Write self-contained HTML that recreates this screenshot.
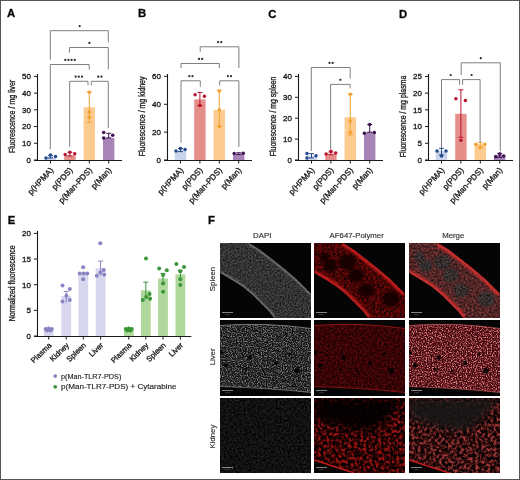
<!DOCTYPE html><html><head><meta charset="utf-8"><style>html,body{margin:0;padding:0;background:#fff}svg{display:block;will-change:transform}text{stroke:#1a1a1a;stroke-width:0.32px}</style></head><body>
<svg width="520" height="480" viewBox="0 0 520 480" font-family='"Liberation Sans", sans-serif'>
<rect width="520" height="480" fill="#fff"/>
<text x="7" y="17.3" font-size="11.3" font-weight="bold" fill="#000">A</text>
<text x="138" y="17.3" font-size="11.3" font-weight="bold" fill="#000">B</text>
<text x="268.3" y="17.6" font-size="11.3" font-weight="bold" fill="#000">C</text>
<text x="399" y="17.6" font-size="11.3" font-weight="bold" fill="#000">D</text>
<text x="7.8" y="224.2" font-size="11.3" font-weight="bold" fill="#000">E</text>
<text x="208" y="224.3" font-size="11.3" font-weight="bold" fill="#000">F</text>
<rect x="44.80" y="156.99" width="11.4" height="3.01" fill="#c9d3ea"/>
<rect x="64.20" y="155.32" width="11.4" height="4.68" fill="#e58f8a"/>
<rect x="83.60" y="107.33" width="11.4" height="52.67" fill="#fdcb90"/>
<rect x="103.00" y="137.93" width="11.4" height="22.07" fill="#a684b6"/>
<path d="M50.30,59.70V30.70H108.30V42.30" fill="none" stroke="#727272" stroke-width="0.9"/>
<circle cx="79.70" cy="26.10" r="1.1" fill="#2a2a2a"/>
<path d="M69.50,52.75V47.50H108.30V69.20" fill="none" stroke="#727272" stroke-width="0.9"/>
<circle cx="89.40" cy="42.90" r="1.1" fill="#2a2a2a"/>
<path d="M50.30,149.20V64.50H89.20V69.70" fill="none" stroke="#727272" stroke-width="0.9"/>
<circle cx="65.28" cy="59.90" r="1.1" fill="#2a2a2a"/>
<circle cx="68.43" cy="59.90" r="1.1" fill="#2a2a2a"/>
<circle cx="71.58" cy="59.90" r="1.1" fill="#2a2a2a"/>
<circle cx="74.73" cy="59.90" r="1.1" fill="#2a2a2a"/>
<path d="M69.70,146.70V81.30H88.00V85.30" fill="none" stroke="#727272" stroke-width="0.9"/>
<circle cx="75.65" cy="76.70" r="1.1" fill="#2a2a2a"/>
<circle cx="78.80" cy="76.70" r="1.1" fill="#2a2a2a"/>
<circle cx="81.95" cy="76.70" r="1.1" fill="#2a2a2a"/>
<path d="M91.30,85.30V81.30H108.30V128.00" fill="none" stroke="#727272" stroke-width="0.9"/>
<circle cx="98.22" cy="76.70" r="1.1" fill="#2a2a2a"/>
<circle cx="101.38" cy="76.70" r="1.1" fill="#2a2a2a"/>
<path d="M50.50,157.99V155.65M48.00,155.65h5M48.00,157.99h5" stroke="#234a8a" stroke-width="1" fill="none"/>
<circle cx="46.00" cy="157.99" r="1.75" fill="#234a8a"/>
<circle cx="50.50" cy="154.98" r="1.75" fill="#234a8a"/>
<circle cx="55.50" cy="156.49" r="1.75" fill="#234a8a"/>
<path d="M69.90,155.99V152.31M67.40,152.31h5M67.40,155.99h5" stroke="#b8142e" stroke-width="1" fill="none"/>
<circle cx="65.20" cy="154.48" r="1.75" fill="#b8142e"/>
<circle cx="69.90" cy="152.31" r="1.75" fill="#b8142e"/>
<circle cx="74.70" cy="153.81" r="1.75" fill="#b8142e"/>
<path d="M89.30,122.38V92.28M86.80,92.28h5M86.80,122.38h5" stroke="#f2a030" stroke-width="1" fill="none"/>
<circle cx="89.30" cy="92.28" r="1.75" fill="#f2a030"/>
<circle cx="89.30" cy="112.18" r="1.75" fill="#f2a030"/>
<circle cx="89.30" cy="117.20" r="1.75" fill="#f2a030"/>
<path d="M108.70,137.93V133.25M106.20,133.25h5M106.20,137.93h5" stroke="#3d1250" stroke-width="1" fill="none"/>
<circle cx="103.70" cy="132.41" r="1.75" fill="#3d1250"/>
<circle cx="112.70" cy="135.25" r="1.75" fill="#3d1250"/>
<circle cx="103.70" cy="137.93" r="1.75" fill="#3d1250"/>
<path d="M37.5,73.90V160.5M34,160.5H122.00" stroke="#1a1a1a" stroke-width="1.1" fill="none"/>
<path d="M34,160.00H37.5" stroke="#1a1a1a" stroke-width="1"/>
<text x="31.00" y="162.90" font-size="8" text-anchor="end" fill="#1a1a1a">0</text>
<path d="M34,143.28H37.5" stroke="#1a1a1a" stroke-width="1"/>
<text x="31.00" y="146.18" font-size="8" text-anchor="end" fill="#1a1a1a">10</text>
<path d="M34,126.56H37.5" stroke="#1a1a1a" stroke-width="1"/>
<text x="31.00" y="129.46" font-size="8" text-anchor="end" fill="#1a1a1a">20</text>
<path d="M34,109.84H37.5" stroke="#1a1a1a" stroke-width="1"/>
<text x="31.00" y="112.74" font-size="8" text-anchor="end" fill="#1a1a1a">30</text>
<path d="M34,93.12H37.5" stroke="#1a1a1a" stroke-width="1"/>
<text x="31.00" y="96.02" font-size="8" text-anchor="end" fill="#1a1a1a">40</text>
<path d="M34,76.40H37.5" stroke="#1a1a1a" stroke-width="1"/>
<text x="31.00" y="79.30" font-size="8" text-anchor="end" fill="#1a1a1a">50</text>
<path d="M50.50,160.5V163.5" stroke="#1a1a1a" stroke-width="1"/>
<path d="M69.90,160.5V163.5" stroke="#1a1a1a" stroke-width="1"/>
<path d="M89.30,160.5V163.5" stroke="#1a1a1a" stroke-width="1"/>
<path d="M108.70,160.5V163.5" stroke="#1a1a1a" stroke-width="1"/>
<text transform="translate(53.70,170.60) rotate(-47.5)" font-size="8.1" text-anchor="end" fill="#1a1a1a">p(HPMA)</text>
<text transform="translate(73.10,170.60) rotate(-47.5)" font-size="8.1" text-anchor="end" fill="#1a1a1a">p(PDS)</text>
<text transform="translate(92.50,170.60) rotate(-47.5)" font-size="8.1" text-anchor="end" fill="#1a1a1a">p(Man-PDS)</text>
<text transform="translate(111.90,170.60) rotate(-47.5)" font-size="8.1" text-anchor="end" fill="#1a1a1a">p(Man)</text>
<text transform="translate(15.40,116.45) rotate(-90)" font-size="8.6" text-anchor="middle" fill="#1a1a1a" textLength="73.3" lengthAdjust="spacingAndGlyphs">Fluorescence / mg liver</text>
<rect x="174.80" y="150.25" width="11.4" height="9.75" fill="#c9d3ea"/>
<rect x="194.20" y="99.39" width="11.4" height="60.61" fill="#e58f8a"/>
<rect x="213.60" y="109.84" width="11.4" height="50.16" fill="#fdcb90"/>
<rect x="233.00" y="153.73" width="11.4" height="6.27" fill="#a684b6"/>
<path d="M200.20,51.80V46.80H238.90V68.00" fill="none" stroke="#727272" stroke-width="0.9"/>
<circle cx="218.12" cy="42.20" r="1.1" fill="#2a2a2a"/>
<circle cx="221.28" cy="42.20" r="1.1" fill="#2a2a2a"/>
<path d="M181.00,68.00V63.50H219.40V68.00" fill="none" stroke="#727272" stroke-width="0.9"/>
<circle cx="199.03" cy="58.90" r="1.1" fill="#2a2a2a"/>
<circle cx="202.18" cy="58.90" r="1.1" fill="#2a2a2a"/>
<path d="M181.00,142.70V80.80H200.30V86.80" fill="none" stroke="#727272" stroke-width="0.9"/>
<circle cx="189.33" cy="76.20" r="1.1" fill="#2a2a2a"/>
<circle cx="192.48" cy="76.20" r="1.1" fill="#2a2a2a"/>
<path d="M219.70,85.50V80.80H238.90V146.90" fill="none" stroke="#727272" stroke-width="0.9"/>
<circle cx="227.93" cy="76.20" r="1.1" fill="#2a2a2a"/>
<circle cx="231.08" cy="76.20" r="1.1" fill="#2a2a2a"/>
<path d="M180.50,151.64V148.44M178.00,148.44h5M178.00,151.64h5" stroke="#234a8a" stroke-width="1" fill="none"/>
<circle cx="176.00" cy="150.94" r="1.75" fill="#234a8a"/>
<circle cx="180.50" cy="148.44" r="1.75" fill="#234a8a"/>
<circle cx="185.00" cy="149.55" r="1.75" fill="#234a8a"/>
<path d="M199.90,105.66V92.42M197.40,92.42h5M197.40,105.66h5" stroke="#b8142e" stroke-width="1" fill="none"/>
<circle cx="195.10" cy="94.79" r="1.75" fill="#b8142e"/>
<circle cx="204.40" cy="96.19" r="1.75" fill="#b8142e"/>
<circle cx="199.90" cy="105.38" r="1.75" fill="#b8142e"/>
<path d="M219.30,126.56V90.33M216.80,90.33h5M216.80,126.56h5" stroke="#f2a030" stroke-width="1" fill="none"/>
<circle cx="219.30" cy="91.03" r="1.75" fill="#f2a030"/>
<circle cx="219.30" cy="109.84" r="1.75" fill="#f2a030"/>
<circle cx="219.30" cy="126.56" r="1.75" fill="#f2a030"/>
<path d="M238.70,154.43V152.75M236.20,152.75h5M236.20,154.43h5" stroke="#3d1250" stroke-width="1" fill="none"/>
<circle cx="234.20" cy="153.59" r="1.75" fill="#3d1250"/>
<circle cx="243.20" cy="153.31" r="1.75" fill="#3d1250"/>
<path d="M167.5,73.90V160.5M164,160.5H252.00" stroke="#1a1a1a" stroke-width="1.1" fill="none"/>
<path d="M164,160.00H167.5" stroke="#1a1a1a" stroke-width="1"/>
<text x="161.00" y="162.90" font-size="8" text-anchor="end" fill="#1a1a1a">0</text>
<path d="M164,132.13H167.5" stroke="#1a1a1a" stroke-width="1"/>
<text x="161.00" y="135.03" font-size="8" text-anchor="end" fill="#1a1a1a">20</text>
<path d="M164,104.27H167.5" stroke="#1a1a1a" stroke-width="1"/>
<text x="161.00" y="107.17" font-size="8" text-anchor="end" fill="#1a1a1a">40</text>
<path d="M164,76.40H167.5" stroke="#1a1a1a" stroke-width="1"/>
<text x="161.00" y="79.30" font-size="8" text-anchor="end" fill="#1a1a1a">60</text>
<path d="M180.50,160.5V163.5" stroke="#1a1a1a" stroke-width="1"/>
<path d="M199.90,160.5V163.5" stroke="#1a1a1a" stroke-width="1"/>
<path d="M219.30,160.5V163.5" stroke="#1a1a1a" stroke-width="1"/>
<path d="M238.70,160.5V163.5" stroke="#1a1a1a" stroke-width="1"/>
<text transform="translate(183.70,170.60) rotate(-47.5)" font-size="8.1" text-anchor="end" fill="#1a1a1a">p(HPMA)</text>
<text transform="translate(203.10,170.60) rotate(-47.5)" font-size="8.1" text-anchor="end" fill="#1a1a1a">p(PDS)</text>
<text transform="translate(222.50,170.60) rotate(-47.5)" font-size="8.1" text-anchor="end" fill="#1a1a1a">p(Man-PDS)</text>
<text transform="translate(241.90,170.60) rotate(-47.5)" font-size="8.1" text-anchor="end" fill="#1a1a1a">p(Man)</text>
<text transform="translate(145.40,116.45) rotate(-90)" font-size="8.6" text-anchor="middle" fill="#1a1a1a" textLength="79.8" lengthAdjust="spacingAndGlyphs">Fluorescence / mg kidney</text>
<rect x="305.80" y="155.82" width="11.4" height="4.18" fill="#c9d3ea"/>
<rect x="325.20" y="153.73" width="11.4" height="6.27" fill="#e58f8a"/>
<rect x="344.60" y="117.16" width="11.4" height="42.84" fill="#fdcb90"/>
<rect x="364.00" y="132.20" width="11.4" height="27.80" fill="#a684b6"/>
<path d="M311.30,151.00V67.50H350.20V78.60" fill="none" stroke="#727272" stroke-width="0.9"/>
<circle cx="329.53" cy="62.90" r="1.1" fill="#2a2a2a"/>
<circle cx="332.68" cy="62.90" r="1.1" fill="#2a2a2a"/>
<path d="M330.60,149.00V84.40H350.20V88.40" fill="none" stroke="#727272" stroke-width="0.9"/>
<circle cx="340.40" cy="79.80" r="1.1" fill="#2a2a2a"/>
<path d="M311.50,157.91V153.73M309.00,153.73h5M309.00,157.91h5" stroke="#234a8a" stroke-width="1" fill="none"/>
<circle cx="307.00" cy="153.52" r="1.75" fill="#234a8a"/>
<circle cx="307.00" cy="157.91" r="1.75" fill="#234a8a"/>
<circle cx="316.00" cy="155.82" r="1.75" fill="#234a8a"/>
<path d="M330.90,154.78V152.06M328.40,152.06h5M328.40,154.78h5" stroke="#b8142e" stroke-width="1" fill="none"/>
<circle cx="326.10" cy="153.94" r="1.75" fill="#b8142e"/>
<circle cx="330.90" cy="151.22" r="1.75" fill="#b8142e"/>
<circle cx="335.70" cy="152.89" r="1.75" fill="#b8142e"/>
<path d="M350.30,134.92V94.17M347.80,94.17h5M347.80,134.92h5" stroke="#f2a030" stroke-width="1" fill="none"/>
<circle cx="350.30" cy="94.17" r="1.75" fill="#f2a030"/>
<circle cx="350.30" cy="120.92" r="1.75" fill="#f2a030"/>
<circle cx="350.30" cy="132.20" r="1.75" fill="#f2a030"/>
<path d="M369.70,132.20V124.47M367.20,124.47h5M367.20,132.20h5" stroke="#3d1250" stroke-width="1" fill="none"/>
<circle cx="369.70" cy="124.47" r="1.75" fill="#3d1250"/>
<circle cx="364.40" cy="133.25" r="1.75" fill="#3d1250"/>
<circle cx="374.30" cy="132.41" r="1.75" fill="#3d1250"/>
<path d="M298.5,73.90V160.5M295,160.5H383.00" stroke="#1a1a1a" stroke-width="1.1" fill="none"/>
<path d="M295,160.00H298.5" stroke="#1a1a1a" stroke-width="1"/>
<text x="292.00" y="162.90" font-size="8" text-anchor="end" fill="#1a1a1a">0</text>
<path d="M295,139.10H298.5" stroke="#1a1a1a" stroke-width="1"/>
<text x="292.00" y="142.00" font-size="8" text-anchor="end" fill="#1a1a1a">10</text>
<path d="M295,118.20H298.5" stroke="#1a1a1a" stroke-width="1"/>
<text x="292.00" y="121.10" font-size="8" text-anchor="end" fill="#1a1a1a">20</text>
<path d="M295,97.30H298.5" stroke="#1a1a1a" stroke-width="1"/>
<text x="292.00" y="100.20" font-size="8" text-anchor="end" fill="#1a1a1a">30</text>
<path d="M295,76.40H298.5" stroke="#1a1a1a" stroke-width="1"/>
<text x="292.00" y="79.30" font-size="8" text-anchor="end" fill="#1a1a1a">40</text>
<path d="M311.50,160.5V163.5" stroke="#1a1a1a" stroke-width="1"/>
<path d="M330.90,160.5V163.5" stroke="#1a1a1a" stroke-width="1"/>
<path d="M350.30,160.5V163.5" stroke="#1a1a1a" stroke-width="1"/>
<path d="M369.70,160.5V163.5" stroke="#1a1a1a" stroke-width="1"/>
<text transform="translate(314.70,170.60) rotate(-47.5)" font-size="8.1" text-anchor="end" fill="#1a1a1a">p(HPMA)</text>
<text transform="translate(334.10,170.60) rotate(-47.5)" font-size="8.1" text-anchor="end" fill="#1a1a1a">p(PDS)</text>
<text transform="translate(353.50,170.60) rotate(-47.5)" font-size="8.1" text-anchor="end" fill="#1a1a1a">p(Man-PDS)</text>
<text transform="translate(372.90,170.60) rotate(-47.5)" font-size="8.1" text-anchor="end" fill="#1a1a1a">p(Man)</text>
<text transform="translate(276.40,116.45) rotate(-90)" font-size="8.6" text-anchor="middle" fill="#1a1a1a" textLength="79.5" lengthAdjust="spacingAndGlyphs">Fluorescence / mg spleen</text>
<rect x="435.80" y="150.97" width="11.4" height="9.03" fill="#c9d3ea"/>
<rect x="455.20" y="113.85" width="11.4" height="46.15" fill="#e58f8a"/>
<rect x="474.60" y="144.28" width="11.4" height="15.72" fill="#fdcb90"/>
<rect x="494.00" y="154.98" width="11.4" height="5.02" fill="#a684b6"/>
<path d="M461.20,74.90V62.80H500.30V151.20" fill="none" stroke="#727272" stroke-width="0.9"/>
<circle cx="480.80" cy="58.20" r="1.1" fill="#2a2a2a"/>
<path d="M441.50,150.00V79.60H459.60V84.70" fill="none" stroke="#727272" stroke-width="0.9"/>
<circle cx="450.70" cy="75.00" r="1.1" fill="#2a2a2a"/>
<path d="M462.60,84.70V79.60H480.10V143.00" fill="none" stroke="#727272" stroke-width="0.9"/>
<circle cx="471.60" cy="75.00" r="1.1" fill="#2a2a2a"/>
<path d="M441.50,154.98V148.30M439.00,148.30h5M439.00,154.98h5" stroke="#234a8a" stroke-width="1" fill="none"/>
<circle cx="437.00" cy="150.97" r="1.75" fill="#234a8a"/>
<circle cx="441.50" cy="155.99" r="1.75" fill="#234a8a"/>
<circle cx="446.00" cy="150.97" r="1.75" fill="#234a8a"/>
<path d="M460.90,137.26V89.78M458.40,89.78h5M458.40,137.26h5" stroke="#b8142e" stroke-width="1" fill="none"/>
<circle cx="455.90" cy="98.80" r="1.75" fill="#b8142e"/>
<circle cx="465.40" cy="100.48" r="1.75" fill="#b8142e"/>
<circle cx="460.90" cy="140.27" r="1.75" fill="#b8142e"/>
<path d="M480.30,147.29V142.61M477.80,142.61h5M477.80,147.29h5" stroke="#f2a030" stroke-width="1" fill="none"/>
<circle cx="475.80" cy="144.28" r="1.75" fill="#f2a030"/>
<circle cx="480.30" cy="147.63" r="1.75" fill="#f2a030"/>
<circle cx="484.80" cy="144.28" r="1.75" fill="#f2a030"/>
<path d="M499.70,157.32V153.31M497.20,153.31h5M497.20,157.32h5" stroke="#3d1250" stroke-width="1" fill="none"/>
<circle cx="495.70" cy="156.66" r="1.75" fill="#3d1250"/>
<circle cx="499.70" cy="153.98" r="1.75" fill="#3d1250"/>
<circle cx="503.70" cy="155.99" r="1.75" fill="#3d1250"/>
<path d="M428.5,73.90V160.5M425,160.5H513.00" stroke="#1a1a1a" stroke-width="1.1" fill="none"/>
<path d="M425,160.00H428.5" stroke="#1a1a1a" stroke-width="1"/>
<text x="422.00" y="162.90" font-size="8" text-anchor="end" fill="#1a1a1a">0</text>
<path d="M425,143.28H428.5" stroke="#1a1a1a" stroke-width="1"/>
<text x="422.00" y="146.18" font-size="8" text-anchor="end" fill="#1a1a1a">5</text>
<path d="M425,126.56H428.5" stroke="#1a1a1a" stroke-width="1"/>
<text x="422.00" y="129.46" font-size="8" text-anchor="end" fill="#1a1a1a">10</text>
<path d="M425,109.84H428.5" stroke="#1a1a1a" stroke-width="1"/>
<text x="422.00" y="112.74" font-size="8" text-anchor="end" fill="#1a1a1a">15</text>
<path d="M425,93.12H428.5" stroke="#1a1a1a" stroke-width="1"/>
<text x="422.00" y="96.02" font-size="8" text-anchor="end" fill="#1a1a1a">20</text>
<path d="M425,76.40H428.5" stroke="#1a1a1a" stroke-width="1"/>
<text x="422.00" y="79.30" font-size="8" text-anchor="end" fill="#1a1a1a">25</text>
<path d="M441.50,160.5V163.5" stroke="#1a1a1a" stroke-width="1"/>
<path d="M460.90,160.5V163.5" stroke="#1a1a1a" stroke-width="1"/>
<path d="M480.30,160.5V163.5" stroke="#1a1a1a" stroke-width="1"/>
<path d="M499.70,160.5V163.5" stroke="#1a1a1a" stroke-width="1"/>
<text transform="translate(444.70,170.60) rotate(-47.5)" font-size="8.1" text-anchor="end" fill="#1a1a1a">p(HPMA)</text>
<text transform="translate(464.10,170.60) rotate(-47.5)" font-size="8.1" text-anchor="end" fill="#1a1a1a">p(PDS)</text>
<text transform="translate(483.50,170.60) rotate(-47.5)" font-size="8.1" text-anchor="end" fill="#1a1a1a">p(Man-PDS)</text>
<text transform="translate(502.90,170.60) rotate(-47.5)" font-size="8.1" text-anchor="end" fill="#1a1a1a">p(Man)</text>
<text transform="translate(406.40,116.45) rotate(-90)" font-size="8.6" text-anchor="middle" fill="#1a1a1a" textLength="81.4" lengthAdjust="spacingAndGlyphs">Fluorescence / mg plasma</text>
<rect x="43.80" y="329.33" width="9.8" height="6.67" fill="#d9d7ef"/>
<rect x="61.30" y="295.99" width="9.8" height="40.01" fill="#d9d7ef"/>
<rect x="78.40" y="272.90" width="9.8" height="63.10" fill="#d9d7ef"/>
<rect x="95.70" y="268.28" width="9.8" height="67.72" fill="#d9d7ef"/>
<rect x="123.90" y="329.84" width="9.8" height="6.16" fill="#b0d79c"/>
<rect x="140.90" y="290.34" width="9.8" height="45.66" fill="#b0d79c"/>
<rect x="158.10" y="278.54" width="9.8" height="57.46" fill="#b0d79c"/>
<rect x="175.50" y="274.44" width="9.8" height="61.56" fill="#b0d79c"/>
<circle cx="45.60" cy="329.00" r="2.0" fill="#8a84c2"/>
<circle cx="48.70" cy="328.50" r="2.0" fill="#8a84c2"/>
<circle cx="51.80" cy="329.00" r="2.0" fill="#8a84c2"/>
<circle cx="47.00" cy="330.50" r="2.0" fill="#8a84c2"/>
<circle cx="50.40" cy="330.50" r="2.0" fill="#8a84c2"/>
<path d="M66.20,302.65V291.37M63.70,291.37h5" stroke="#8a84c2" stroke-width="1" fill="none"/>
<circle cx="62.50" cy="285.40" r="2.0" fill="#8a84c2"/>
<circle cx="69.80" cy="288.90" r="2.0" fill="#8a84c2"/>
<circle cx="66.40" cy="295.70" r="2.0" fill="#8a84c2"/>
<circle cx="62.50" cy="301.50" r="2.0" fill="#8a84c2"/>
<circle cx="69.80" cy="299.90" r="2.0" fill="#8a84c2"/>
<circle cx="83.10" cy="267.30" r="2.0" fill="#8a84c2"/>
<circle cx="79.70" cy="273.50" r="2.0" fill="#8a84c2"/>
<circle cx="83.60" cy="273.50" r="2.0" fill="#8a84c2"/>
<circle cx="87.20" cy="273.50" r="2.0" fill="#8a84c2"/>
<circle cx="83.10" cy="279.20" r="2.0" fill="#8a84c2"/>
<path d="M100.60,275.47V261.10M98.10,261.10h5" stroke="#8a84c2" stroke-width="1" fill="none"/>
<circle cx="100.30" cy="243.30" r="2.0" fill="#8a84c2"/>
<circle cx="103.70" cy="270.00" r="2.0" fill="#8a84c2"/>
<circle cx="100.30" cy="272.40" r="2.0" fill="#8a84c2"/>
<circle cx="96.80" cy="275.80" r="2.0" fill="#8a84c2"/>
<circle cx="104.20" cy="274.70" r="2.0" fill="#8a84c2"/>
<circle cx="125.80" cy="329.00" r="2.0" fill="#3a9638"/>
<circle cx="128.80" cy="328.50" r="2.0" fill="#3a9638"/>
<circle cx="131.80" cy="329.00" r="2.0" fill="#3a9638"/>
<circle cx="127.20" cy="330.50" r="2.0" fill="#3a9638"/>
<circle cx="130.40" cy="330.50" r="2.0" fill="#3a9638"/>
<path d="M145.80,297.52V282.13M143.30,282.13h5" stroke="#3a9638" stroke-width="1" fill="none"/>
<circle cx="146.00" cy="258.60" r="2.0" fill="#3a9638"/>
<circle cx="142.80" cy="299.90" r="2.0" fill="#3a9638"/>
<circle cx="146.20" cy="297.10" r="2.0" fill="#3a9638"/>
<circle cx="149.60" cy="294.10" r="2.0" fill="#3a9638"/>
<circle cx="150.10" cy="298.70" r="2.0" fill="#3a9638"/>
<path d="M163.00,284.70V273.41M160.50,273.41h5" stroke="#3a9638" stroke-width="1" fill="none"/>
<circle cx="159.20" cy="268.50" r="2.0" fill="#3a9638"/>
<circle cx="166.80" cy="270.30" r="2.0" fill="#3a9638"/>
<circle cx="163.10" cy="275.10" r="2.0" fill="#3a9638"/>
<circle cx="163.10" cy="283.40" r="2.0" fill="#3a9638"/>
<circle cx="163.10" cy="291.80" r="2.0" fill="#3a9638"/>
<path d="M180.40,279.57V270.34M177.90,270.34h5" stroke="#3a9638" stroke-width="1" fill="none"/>
<circle cx="176.40" cy="263.90" r="2.0" fill="#3a9638"/>
<circle cx="184.00" cy="267.10" r="2.0" fill="#3a9638"/>
<circle cx="180.30" cy="271.20" r="2.0" fill="#3a9638"/>
<circle cx="180.30" cy="279.20" r="2.0" fill="#3a9638"/>
<circle cx="180.30" cy="285.00" r="2.0" fill="#3a9638"/>
<path d="M37.5,230.90V336.5M34,336.5H191.3" stroke="#1a1a1a" stroke-width="1.1" fill="none"/>
<path d="M34,336.00H37.5" stroke="#1a1a1a" stroke-width="1"/>
<text x="31.00" y="338.90" font-size="8" text-anchor="end" fill="#1a1a1a">0</text>
<path d="M34,310.35H37.5" stroke="#1a1a1a" stroke-width="1"/>
<text x="31.00" y="313.25" font-size="8" text-anchor="end" fill="#1a1a1a">5</text>
<path d="M34,284.70H37.5" stroke="#1a1a1a" stroke-width="1"/>
<text x="31.00" y="287.60" font-size="8" text-anchor="end" fill="#1a1a1a">10</text>
<path d="M34,259.05H37.5" stroke="#1a1a1a" stroke-width="1"/>
<text x="31.00" y="261.95" font-size="8" text-anchor="end" fill="#1a1a1a">15</text>
<path d="M34,233.40H37.5" stroke="#1a1a1a" stroke-width="1"/>
<text x="31.00" y="236.30" font-size="8" text-anchor="end" fill="#1a1a1a">20</text>
<path d="M48.70,336.5V339.5" stroke="#1a1a1a" stroke-width="1"/>
<text transform="translate(52.00,345.80) rotate(-44)" font-size="7.6" text-anchor="end" fill="#1a1a1a">Plasma</text>
<path d="M66.20,336.5V339.5" stroke="#1a1a1a" stroke-width="1"/>
<text transform="translate(69.50,345.80) rotate(-44)" font-size="7.6" text-anchor="end" fill="#1a1a1a">Kidney</text>
<path d="M83.30,336.5V339.5" stroke="#1a1a1a" stroke-width="1"/>
<text transform="translate(86.60,345.80) rotate(-44)" font-size="7.6" text-anchor="end" fill="#1a1a1a">Spleen</text>
<path d="M100.60,336.5V339.5" stroke="#1a1a1a" stroke-width="1"/>
<text transform="translate(103.90,345.80) rotate(-44)" font-size="7.6" text-anchor="end" fill="#1a1a1a">Liver</text>
<path d="M128.80,336.5V339.5" stroke="#1a1a1a" stroke-width="1"/>
<text transform="translate(132.10,345.80) rotate(-44)" font-size="7.6" text-anchor="end" fill="#1a1a1a">Plasma</text>
<path d="M145.80,336.5V339.5" stroke="#1a1a1a" stroke-width="1"/>
<text transform="translate(149.10,345.80) rotate(-44)" font-size="7.6" text-anchor="end" fill="#1a1a1a">Kidney</text>
<path d="M163.00,336.5V339.5" stroke="#1a1a1a" stroke-width="1"/>
<text transform="translate(166.30,345.80) rotate(-44)" font-size="7.6" text-anchor="end" fill="#1a1a1a">Spleen</text>
<path d="M180.40,336.5V339.5" stroke="#1a1a1a" stroke-width="1"/>
<text transform="translate(183.70,345.80) rotate(-44)" font-size="7.6" text-anchor="end" fill="#1a1a1a">Liver</text>
<text transform="translate(15.4,283.3) rotate(-90)" font-size="8.6" text-anchor="middle" fill="#1a1a1a" textLength="75.8" lengthAdjust="spacingAndGlyphs">Normalized fluorescence</text>
<circle cx="55.2" cy="376.1" r="1.9" fill="#8a84c2"/>
<text x="61" y="378.6" font-size="6.7" fill="#1a1a1a" style="stroke-width:0.12px" textLength="60.3" lengthAdjust="spacingAndGlyphs">p(Man-TLR7-PDS)</text>
<circle cx="55.2" cy="386.8" r="1.9" fill="#3a9638"/>
<text x="61" y="388.9" font-size="6.7" fill="#1a1a1a" style="stroke-width:0.12px" textLength="115.5" lengthAdjust="spacingAndGlyphs">p(Man-TLR7-PDS) + Cytarabine</text>
<text x="262.2" y="237.7" font-size="7.8" text-anchor="middle" fill="#333" style="stroke:#444;stroke-width:0.2px">DAPI</text>
<text x="356.7" y="237.7" font-size="7.8" text-anchor="middle" fill="#333" style="stroke:#444;stroke-width:0.2px">AF647-Polymer</text>
<text x="453.2" y="237.7" font-size="7.8" text-anchor="middle" fill="#333" style="stroke:#444;stroke-width:0.2px">Merge</text>
<text transform="translate(214.5,279.0) rotate(-90)" font-size="7.8" text-anchor="middle" fill="#333" style="stroke:#444;stroke-width:0.2px">Spleen</text>
<text transform="translate(214.5,356.90000000000003) rotate(-90)" font-size="7.8" text-anchor="middle" fill="#333" style="stroke:#444;stroke-width:0.2px">Liver</text>
<text transform="translate(214.5,436.6) rotate(-90)" font-size="7.8" text-anchor="middle" fill="#333" style="stroke:#444;stroke-width:0.2px">Kidney</text>
<defs>
<filter id="nDs" x="0" y="0" width="1" height="1" color-interpolation-filters="sRGB"><feTurbulence type="fractalNoise" baseFrequency="0.6" numOctaves="2" seed="2"/><feColorMatrix type="matrix" values="0.4 0 0 0 0.0  0.4 0 0 0 0.0  0.4 0 0 0 0.0  0 0 0 0 1"/></filter>
<filter id="nRs" x="0" y="0" width="1" height="1" color-interpolation-filters="sRGB"><feTurbulence type="fractalNoise" baseFrequency="0.45" numOctaves="3" seed="5"/><feColorMatrix type="matrix" values="0.85 0 0 0 -0.15  0.06 0 0 0 -0.01  0.06 0 0 0 -0.01  0 0 0 0 1"/></filter>
<filter id="nMs" x="0" y="0" width="1" height="1" color-interpolation-filters="sRGB"><feTurbulence type="fractalNoise" baseFrequency="0.5" numOctaves="3" seed="7"/><feColorMatrix type="matrix" values="0.8 0 0 0 -0.08  0.32 0 0 0 -0.01  0.32 0 0 0 -0.01  0 0 0 0 1"/></filter>
<filter id="nFol" x="0" y="0" width="1" height="1" color-interpolation-filters="sRGB"><feTurbulence type="fractalNoise" baseFrequency="0.6" numOctaves="2" seed="31"/><feColorMatrix type="matrix" values="0.45 0 0 0 -0.02  0.4 0 0 0 -0.02  0.4 0 0 0 -0.02  0 0 0 0 1"/></filter>
<filter id="nDl" x="0" y="0" width="1" height="1" color-interpolation-filters="sRGB"><feTurbulence type="fractalNoise" baseFrequency="0.8" numOctaves="2" seed="11"/><feColorMatrix type="matrix" values="2.2 0 0 0 -0.6  2.2 0 0 0 -0.6  2.2 0 0 0 -0.6  0 0 0 0 1"/><feComponentTransfer><feFuncR type="gamma" amplitude="0.45" exponent="1.7" offset="0.04"/><feFuncG type="gamma" amplitude="0.45" exponent="1.7" offset="0.04"/><feFuncB type="gamma" amplitude="0.45" exponent="1.7" offset="0.04"/></feComponentTransfer></filter>
<filter id="nRl" x="0" y="0" width="1" height="1" color-interpolation-filters="sRGB"><feTurbulence type="fractalNoise" baseFrequency="0.5" numOctaves="2" seed="13"/><feColorMatrix type="matrix" values="0.6 0 0 0 -0.08  0.07 0 0 0 -0.02  0.1 0 0 0 -0.025  0 0 0 0 1"/></filter>
<filter id="nMl" x="0" y="0" width="1" height="1" color-interpolation-filters="sRGB"><feTurbulence type="fractalNoise" baseFrequency="0.8" numOctaves="2" seed="17"/><feColorMatrix type="matrix" values="2.4 0 0 0 -0.7  2.4 0 0 0 -0.7  2.4 0 0 0 -0.7  0 0 0 0 1"/><feComponentTransfer><feFuncR type="gamma" amplitude="0.68" exponent="1.6" offset="0.18"/><feFuncG type="gamma" amplitude="0.48" exponent="2.3" offset="0.02"/><feFuncB type="gamma" amplitude="0.48" exponent="2.3" offset="0.04"/></feComponentTransfer></filter>
<filter id="nDk" x="0" y="0" width="1" height="1" color-interpolation-filters="sRGB"><feTurbulence type="fractalNoise" baseFrequency="0.5" numOctaves="2" seed="19"/><feColorMatrix type="matrix" values="0.26 0 0 0 -0.065  0.26 0 0 0 -0.065  0.26 0 0 0 -0.065  0 0 0 0 1"/></filter>
<filter id="nRk" x="0" y="0" width="1" height="1" color-interpolation-filters="sRGB"><feTurbulence type="fractalNoise" baseFrequency="0.33" numOctaves="3" seed="23"/><feColorMatrix type="matrix" values="2.4 0 0 0 -0.7  2.4 0 0 0 -0.7  2.4 0 0 0 -0.7  0 0 0 0 1"/><feComponentTransfer><feFuncR type="gamma" amplitude="0.6" exponent="1.7" offset="0.02"/><feFuncG type="gamma" amplitude="0.08" exponent="2.0" offset="0.0"/><feFuncB type="gamma" amplitude="0.08" exponent="2.0" offset="0.0"/></feComponentTransfer></filter>
<filter id="nMk" x="0" y="0" width="1" height="1" color-interpolation-filters="sRGB"><feTurbulence type="fractalNoise" baseFrequency="0.33" numOctaves="3" seed="29"/><feColorMatrix type="matrix" values="2.4 0 0 0 -0.7  2.4 0 0 0 -0.7  2.4 0 0 0 -0.7  0 0 0 0 1"/><feComponentTransfer><feFuncR type="gamma" amplitude="0.62" exponent="1.7" offset="0.03"/><feFuncG type="gamma" amplitude="0.22" exponent="2.0" offset="0.01"/><feFuncB type="gamma" amplitude="0.22" exponent="2.0" offset="0.01"/></feComponentTransfer></filter>
<filter id="blur2" x="-50%" y="-50%" width="200%" height="200%"><feGaussianBlur stdDeviation="2.2"/></filter>
<filter id="blur15" x="-50%" y="-50%" width="200%" height="200%"><feGaussianBlur stdDeviation="1.2"/></filter>
<filter id="blur5" x="-50%" y="-50%" width="200%" height="200%"><feGaussianBlur stdDeviation="4.5"/></filter>
<filter id="blur05" x="-50%" y="-50%" width="200%" height="200%"><feGaussianBlur stdDeviation="0.6"/></filter>
<filter id="blur1" x="-50%" y="-50%" width="200%" height="200%"><feGaussianBlur stdDeviation="0.8"/></filter>
<linearGradient id="kfade" x1="0" y1="0" x2="0" y2="1"><stop offset="0" stop-color="#000" stop-opacity="1"/><stop offset="0.3" stop-color="#000" stop-opacity="0.9"/><stop offset="0.62" stop-color="#000" stop-opacity="0.1"/><stop offset="1" stop-color="#000" stop-opacity="0"/></linearGradient>
<clipPath id="c00"><rect x="220" y="243" width="91" height="75"/></clipPath>
<clipPath id="c01"><rect x="314" y="243" width="91" height="75"/></clipPath>
<clipPath id="c02"><rect x="409" y="243" width="91" height="75"/></clipPath>
<clipPath id="c10"><rect x="220" y="320" width="91" height="76"/></clipPath>
<clipPath id="c11"><rect x="314" y="320" width="91" height="76"/></clipPath>
<clipPath id="c12"><rect x="409" y="320" width="91" height="76"/></clipPath>
<clipPath id="c20"><rect x="220" y="398" width="91" height="75"/></clipPath>
<clipPath id="c21"><rect x="314" y="398" width="91" height="75"/></clipPath>
<clipPath id="c22"><rect x="409" y="398" width="91" height="75"/></clipPath>
</defs>
<g clip-path="url(#c00)">
<rect x="220" y="243" width="91" height="75" fill="#050505"/>
<clipPath id="b00"><path d="M220.0,243.0 L248.9,243.0 L260.3,250.0 L272.5,259.6 L284.8,269.3 L297.0,279.8 L307.5,290.3 L311.0,293.8 L311.0,318.0 L274.3,318.0 L269.0,311.3 L262.0,304.3 L253.3,295.5 L242.8,286.8 L230.5,278.9 L220.0,272.8Z"/></clipPath>
<g clip-path="url(#b00)"><rect x="220" y="243" width="91" height="75" filter="url(#nDs)"/>
<path d="M248.9,243.0 L260.3,250.0 L272.5,259.6 L284.8,269.3 L297.0,279.8 L307.5,290.3 L311.0,293.8" stroke="#9a9a9a" stroke-width="2.6" fill="none" opacity="0.85" filter="url(#blur1)"/>
<path d="M274.3,318.0 L269.0,311.3 L262.0,304.3 L253.3,295.5 L242.8,286.8 L230.5,278.9 L220.0,272.8" stroke="#9a9a9a" stroke-width="2.6" fill="none" opacity="0.85" filter="url(#blur1)"/>
</g>
<path d="M222,312.5h11" stroke="#bbb" stroke-width="0.7"/>
<path d="M225,314.7h5" stroke="#666" stroke-width="0.5"/>
</g>
<g clip-path="url(#c01)">
<rect x="314" y="243" width="91" height="75" fill="#050505"/>
<clipPath id="b01"><path d="M314.0,243.0 L342.9,243.0 L354.3,250.0 L366.5,259.6 L378.8,269.3 L391.0,279.8 L401.5,290.3 L405.0,293.8 L405.0,318.0 L368.3,318.0 L363.0,311.3 L356.0,304.3 L347.3,295.5 L336.8,286.8 L324.5,278.9 L314.0,272.8Z"/></clipPath>
<g clip-path="url(#b01)"><rect x="314" y="243" width="91" height="75" filter="url(#nRs)"/>
<ellipse cx="347.3" cy="262.3" rx="8.5" ry="7.5" fill="#120303" opacity="0.95" filter="url(#blur15)"/>
<ellipse cx="330.6" cy="265.8" rx="6.5" ry="6" fill="#120303" opacity="0.95" filter="url(#blur15)"/>
<ellipse cx="356" cy="275.4" rx="7.5" ry="7" fill="#120303" opacity="0.95" filter="url(#blur15)"/>
<ellipse cx="366.5" cy="290.3" rx="7.5" ry="7" fill="#120303" opacity="0.95" filter="url(#blur15)"/>
<ellipse cx="391" cy="299" rx="8.5" ry="7.5" fill="#120303" opacity="0.95" filter="url(#blur15)"/>
<ellipse cx="324.5" cy="257" rx="5" ry="5" fill="#120303" opacity="0.95" filter="url(#blur15)"/>
<path d="M342.9,243.0 L354.3,250.0 L366.5,259.6 L378.8,269.3 L391.0,279.8 L401.5,290.3 L405.0,293.8" stroke="#d42020" stroke-width="6.0" fill="none" opacity="0.85" filter="url(#blur1)"/>
<path d="M368.3,318.0 L363.0,311.3 L356.0,304.3 L347.3,295.5 L336.8,286.8 L324.5,278.9 L314.0,272.8" stroke="#d42020" stroke-width="6.0" fill="none" opacity="0.85" filter="url(#blur1)"/>
</g>
<path d="M316,312.5h11" stroke="#bbb" stroke-width="0.7"/>
<path d="M319,314.7h5" stroke="#666" stroke-width="0.5"/>
</g>
<g clip-path="url(#c02)">
<rect x="409" y="243" width="91" height="75" fill="#050505"/>
<clipPath id="b02"><path d="M409.0,243.0 L437.9,243.0 L449.3,250.0 L461.5,259.6 L473.8,269.3 L486.0,279.8 L496.5,290.3 L500.0,293.8 L500.0,318.0 L463.3,318.0 L458.0,311.3 L451.0,304.3 L442.3,295.5 L431.8,286.8 L419.5,278.9 L409.0,272.8Z"/></clipPath>
<g clip-path="url(#b02)"><rect x="409" y="243" width="91" height="75" filter="url(#nMs)"/>
<mask id="fm2" maskUnits="userSpaceOnUse" x="409" y="243" width="91" height="75"><rect x="409" y="243" width="91" height="75" fill="#000"/><g filter="url(#blur15)">
<ellipse cx="442.3" cy="262.3" rx="8.5" ry="7.5" fill="#fff"/>
<ellipse cx="425.6" cy="265.8" rx="6.5" ry="6" fill="#fff"/>
<ellipse cx="451" cy="275.4" rx="7.5" ry="7" fill="#fff"/>
<ellipse cx="461.5" cy="290.3" rx="7.5" ry="7" fill="#fff"/>
<ellipse cx="486" cy="299" rx="8.5" ry="7.5" fill="#fff"/>
<ellipse cx="419.5" cy="257" rx="5" ry="5" fill="#fff"/>
</g></mask>
<rect x="409" y="243" width="91" height="75" filter="url(#nFol)" mask="url(#fm2)"/>
<path d="M437.9,243.0 L449.3,250.0 L461.5,259.6 L473.8,269.3 L486.0,279.8 L496.5,290.3 L500.0,293.8" stroke="#dc3030" stroke-width="6.4" fill="none" opacity="0.85" filter="url(#blur1)"/>
<path d="M463.3,318.0 L458.0,311.3 L451.0,304.3 L442.3,295.5 L431.8,286.8 L419.5,278.9 L409.0,272.8" stroke="#dc3030" stroke-width="6.4" fill="none" opacity="0.85" filter="url(#blur1)"/>
</g>
<path d="M411,312.5h11" stroke="#bbb" stroke-width="0.7"/>
<path d="M414,314.7h5" stroke="#666" stroke-width="0.5"/>
</g>
<g clip-path="url(#c10)">
<rect x="220" y="320" width="91" height="76" fill="#050505"/>
<clipPath id="b10"><path d="M220,325.5 Q265,322 311,328.5 L311,392.5 Q270,388 220,386.5 Z"/></clipPath>
<g clip-path="url(#b10)"><rect x="220" y="320" width="91" height="76" filter="url(#nDl)"/>
<g filter="url(#blur05)" fill="#000" opacity="0.85">
<circle cx="226.1" cy="365.5" r="2.3"/>
<circle cx="249.8" cy="357.6" r="2.4"/>
<circle cx="246.3" cy="369" r="1.5"/>
<circle cx="276" cy="362.9" r="2"/>
<circle cx="297" cy="370.8" r="2.8"/>
<circle cx="290" cy="354.1" r="1.5"/>
<circle cx="221" cy="352.4" r="2"/>
<path d="M262,368 L265.5,375" stroke="#000" stroke-width="1.3"/>
</g></g>
<path d="M220,325.5 Q265,322 311,328.5" stroke="#9a9a9a" stroke-width="1" fill="none" opacity="0.7"/>
<path d="M311,392.5 Q270,388 220,386.5" stroke="#9a9a9a" stroke-width="1" fill="none" opacity="0.6"/>
<path d="M222,390.5h11" stroke="#bbb" stroke-width="0.7"/>
<path d="M225,392.7h5" stroke="#666" stroke-width="0.5"/>
</g>
<g clip-path="url(#c11)">
<rect x="314" y="320" width="91" height="76" fill="#050505"/>
<clipPath id="b11"><path d="M314,325.5 Q359,322 405,328.5 L405,392.5 Q364,388 314,386.5 Z"/></clipPath>
<g clip-path="url(#b11)"><rect x="314" y="320" width="91" height="76" filter="url(#nRl)"/>
<g filter="url(#blur05)" fill="#000" opacity="0.85">
<circle cx="320.1" cy="365.5" r="2.3"/>
<circle cx="343.8" cy="357.6" r="2.4"/>
<circle cx="340.3" cy="369" r="1.5"/>
<circle cx="370" cy="362.9" r="2"/>
<circle cx="391" cy="370.8" r="2.8"/>
<circle cx="384" cy="354.1" r="1.5"/>
<circle cx="315" cy="352.4" r="2"/>
<path d="M356,368 L359.5,375" stroke="#000" stroke-width="1.3"/>
</g></g>
<path d="M314,325.5 Q359,322 405,328.5" stroke="#c01818" stroke-width="1" fill="none" opacity="0.7"/>
<path d="M405,392.5 Q364,388 314,386.5" stroke="#c01818" stroke-width="1" fill="none" opacity="0.6"/>
<path d="M316,390.5h11" stroke="#bbb" stroke-width="0.7"/>
<path d="M319,392.7h5" stroke="#666" stroke-width="0.5"/>
</g>
<g clip-path="url(#c12)">
<rect x="409" y="320" width="91" height="76" fill="#050505"/>
<clipPath id="b12"><path d="M409,325.5 Q454,322 500,328.5 L500,392.5 Q459,388 409,386.5 Z"/></clipPath>
<g clip-path="url(#b12)"><rect x="409" y="320" width="91" height="76" filter="url(#nMl)"/>
<g filter="url(#blur05)" fill="#000" opacity="0.85">
<circle cx="415.1" cy="365.5" r="2.3"/>
<circle cx="438.8" cy="357.6" r="2.4"/>
<circle cx="435.3" cy="369" r="1.5"/>
<circle cx="465" cy="362.9" r="2"/>
<circle cx="486" cy="370.8" r="2.8"/>
<circle cx="479" cy="354.1" r="1.5"/>
<circle cx="410" cy="352.4" r="2"/>
<path d="M451,368 L454.5,375" stroke="#000" stroke-width="1.3"/>
</g></g>
<path d="M409,325.5 Q454,322 500,328.5" stroke="#d06060" stroke-width="1" fill="none" opacity="0.7"/>
<path d="M500,392.5 Q459,388 409,386.5" stroke="#d06060" stroke-width="1" fill="none" opacity="0.6"/>
<path d="M411,390.5h11" stroke="#bbb" stroke-width="0.7"/>
<path d="M414,392.7h5" stroke="#666" stroke-width="0.5"/>
</g>
<g clip-path="url(#c20)">
<rect x="220" y="398" width="91" height="75" fill="#050505"/>
<rect x="220" y="398" width="91" height="75" filter="url(#nDk)"/>
<path d="M222,467.5h11" stroke="#bbb" stroke-width="0.7"/>
<path d="M225,469.7h5" stroke="#666" stroke-width="0.5"/>
</g>
<g clip-path="url(#c21)">
<rect x="314" y="398" width="91" height="75" fill="#050505"/>
<rect x="314" y="398" width="91" height="75" filter="url(#nRk)"/>
<path d="M314,398 H405 V402 C396,406 392,416 380,426 C366,436 342,428 314,418 Z" fill="#000" opacity="0.9" filter="url(#blur5)"/>
<path d="M314,460 L354,473 L314,473 Z" fill="#050505"/>
<path d="M314,460 L354,473" stroke="#e02020" stroke-width="1.4" fill="none" opacity="0.85"/>
<path d="M316,467.5h11" stroke="#bbb" stroke-width="0.7"/>
<path d="M319,469.7h5" stroke="#666" stroke-width="0.5"/>
</g>
<g clip-path="url(#c22)">
<rect x="409" y="398" width="91" height="75" fill="#050505"/>
<rect x="409" y="398" width="91" height="75" filter="url(#nMk)"/>
<path d="M409,398 H500 V402 C491,406 487,416 475,426 C461,436 437,428 409,418 Z" fill="#141414" opacity="0.9" filter="url(#blur5)"/>
<path d="M409,460 L449,473 L409,473 Z" fill="#050505"/>
<path d="M409,460 L449,473" stroke="#e02020" stroke-width="1.4" fill="none" opacity="0.85"/>
<path d="M411,467.5h11" stroke="#bbb" stroke-width="0.7"/>
<path d="M414,469.7h5" stroke="#666" stroke-width="0.5"/>
</g>
<rect x="0.5" y="0.5" width="519" height="479" fill="none" stroke="#555" stroke-width="1"/>
</svg></body></html>
